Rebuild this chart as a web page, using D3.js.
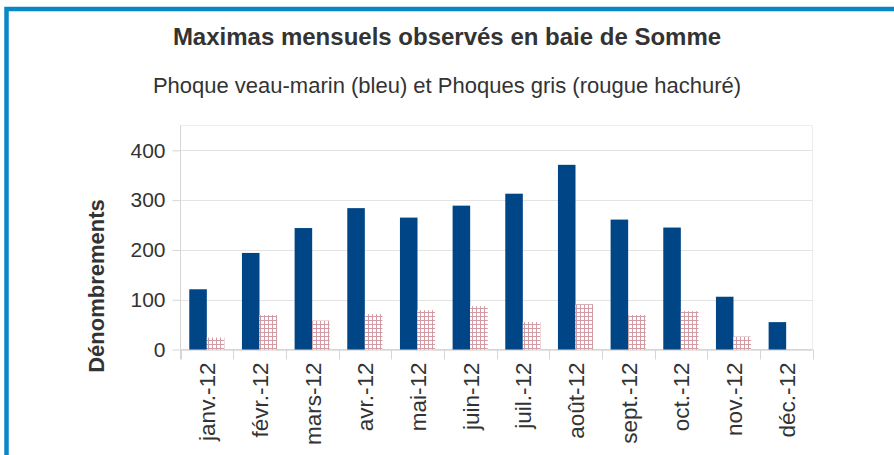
<!DOCTYPE html>
<html lang="fr">
<head>
<meta charset="UTF-8">
<title>Maximas mensuels</title>
<script src="https://d3js.org/d3.v7.min.js"></script>
<style>
    body { margin: 0; background: #fff; }
    svg { display: block; font-family: "Liberation Sans", Arial, sans-serif; }
    .tick text { fill: #333; }
</style>
</head>
<body>
<script>
    // données
    const mois = ['janv.-12','févr.-12','mars-12','avr.-12','mai-12','juin-12','juil.-12','août-12','sept.-12','oct.-12','nov.-12','déc.-12']
    const veauMarin = [121, 194, 244, 284, 265, 289, 313, 371, 261, 245, 106, 55]
    const gris = [24, 69, 58, 71, 79, 87, 55, 91, 69, 77, 26, 0]
    const yTicks = [0, 100, 200, 300, 400]

    const width = 894, height = 455
    const pLeft = 180.5, pRight = 812.5, pTop = 125.5, pBottom = 349.5

    const svg = d3.select('body').append('svg')
        .attr('width', width)
        .attr('height', height)

    // motif hachuré
    const pat = svg.append('defs').append('pattern')
        .attr('id', 'hach')
        .attr('patternUnits', 'userSpaceOnUse')
        .attr('width', 4).attr('height', 4)
    pat.append('rect').attr('width', 4).attr('height', 4).attr('fill', '#fff')
    pat.append('path')
        .attr('d', 'M0.5,0V4M0,0.5H4')
        .attr('stroke', '#d29aa2')
        .attr('stroke-width', 1)

    // cadre bleu
    svg.append('rect')
        .attr('x', 6.5).attr('y', 9)
        .attr('width', 1000).attr('height', 1000)
        .attr('fill', 'none')
        .attr('stroke', '#0a87c9')
        .attr('stroke-width', 4.5)

    const x = d3.scaleBand().domain(mois).range([pLeft, pRight])
    const y = d3.scaleLinear().domain([0, 450]).range([pBottom, pTop])
    const bw = x.bandwidth() / 3

    // cadre de la zone de tracé
    svg.append('rect')
        .attr('x', pLeft).attr('y', pTop)
        .attr('width', pRight - pLeft).attr('height', pBottom - pTop)
        .attr('fill', 'none')
        .attr('stroke', '#ececec')

    // grille
    svg.append('g').selectAll('line')
        .data(yTicks)
        .enter().append('line')
        .attr('x1', pLeft).attr('x2', pRight)
        .attr('y1', d => Math.round(y(d)) + 0.5)
        .attr('y2', d => Math.round(y(d)) + 0.5)
        .attr('stroke', '#e3e3e3')

    // axe y
    const yAxis = svg.append('g')
        .attr('transform', 'translate(' + pLeft + ',0)')
        .call(d3.axisLeft(y).tickValues(yTicks).tickSize(8).tickPadding(7).tickFormat(d3.format('d')))
    yAxis.selectAll('line').attr('stroke', '#d6d6d6')
    yAxis.select('.domain').attr('stroke', '#d6d6d6')
        .attr('d', 'M0,' + pTop + 'V' + (pBottom + 10))
    yAxis.selectAll('text').attr('font-size', 21).attr('fill', '#333')

    // axe x
    const xAxis = svg.append('g')
        .attr('transform', 'translate(0,' + pBottom + ')')
    xAxis.append('line')
        .attr('x1', pLeft).attr('x2', pRight)
        .attr('stroke', '#d6d6d6')
    xAxis.selectAll('line.tk')
        .data(mois.concat(['fin']))
        .enter().append('line')
        .attr('class', 'tk')
        .attr('x1', (d, i) => Math.round(pLeft + i * x.step()) + 0.5)
        .attr('x2', (d, i) => Math.round(pLeft + i * x.step()) + 0.5)
        .attr('y1', 0).attr('y2', 10)
        .attr('stroke', '#d6d6d6')
    xAxis.selectAll('text')
        .data(mois)
        .enter().append('text')
        .attr('transform', d => 'translate(' + (x(d) + x.bandwidth() / 2 + 8.5) + ',13) rotate(-90)')
        .attr('text-anchor', 'end')
        .attr('font-size', 22.5)
        .attr('fill', '#333')
        .text(d => d)

    // barres
    svg.append('g').selectAll('rect')
        .data(veauMarin)
        .enter().append('rect')
        .attr('x', (d, i) => x(mois[i]) + bw / 2)
        .attr('y', d => y(d))
        .attr('width', bw)
        .attr('height', d => y(0) - y(d))
        .attr('fill', '#004586')

    svg.append('g').selectAll('rect')
        .data(gris)
        .enter().append('rect')
        .attr('x', (d, i) => x(mois[i]) + bw * 1.5)
        .attr('y', d => y(d))
        .attr('width', bw)
        .attr('height', d => y(0) - y(d))
        .attr('fill', 'url(#hach)')

    // titres
    svg.append('text')
        .attr('x', 447).attr('y', 45)
        .attr('text-anchor', 'middle')
        .attr('font-size', 24).attr('font-weight', 'bold')
        .attr('fill', '#333')
        .text('Maximas mensuels observés en baie de Somme')

    svg.append('text')
        .attr('x', 447).attr('y', 93)
        .attr('text-anchor', 'middle')
        .attr('font-size', 22)
        .attr('fill', '#333')
        .text('Phoque veau-marin (bleu) et Phoques gris (rougue hachuré)')

    svg.append('text')
        .attr('transform', 'translate(104,286) rotate(-90)')
        .attr('text-anchor', 'middle')
        .attr('font-size', 22).attr('font-weight', 'bold')
        .attr('fill', '#333')
        .text('Dénombrements')
</script>
</body>
</html>
